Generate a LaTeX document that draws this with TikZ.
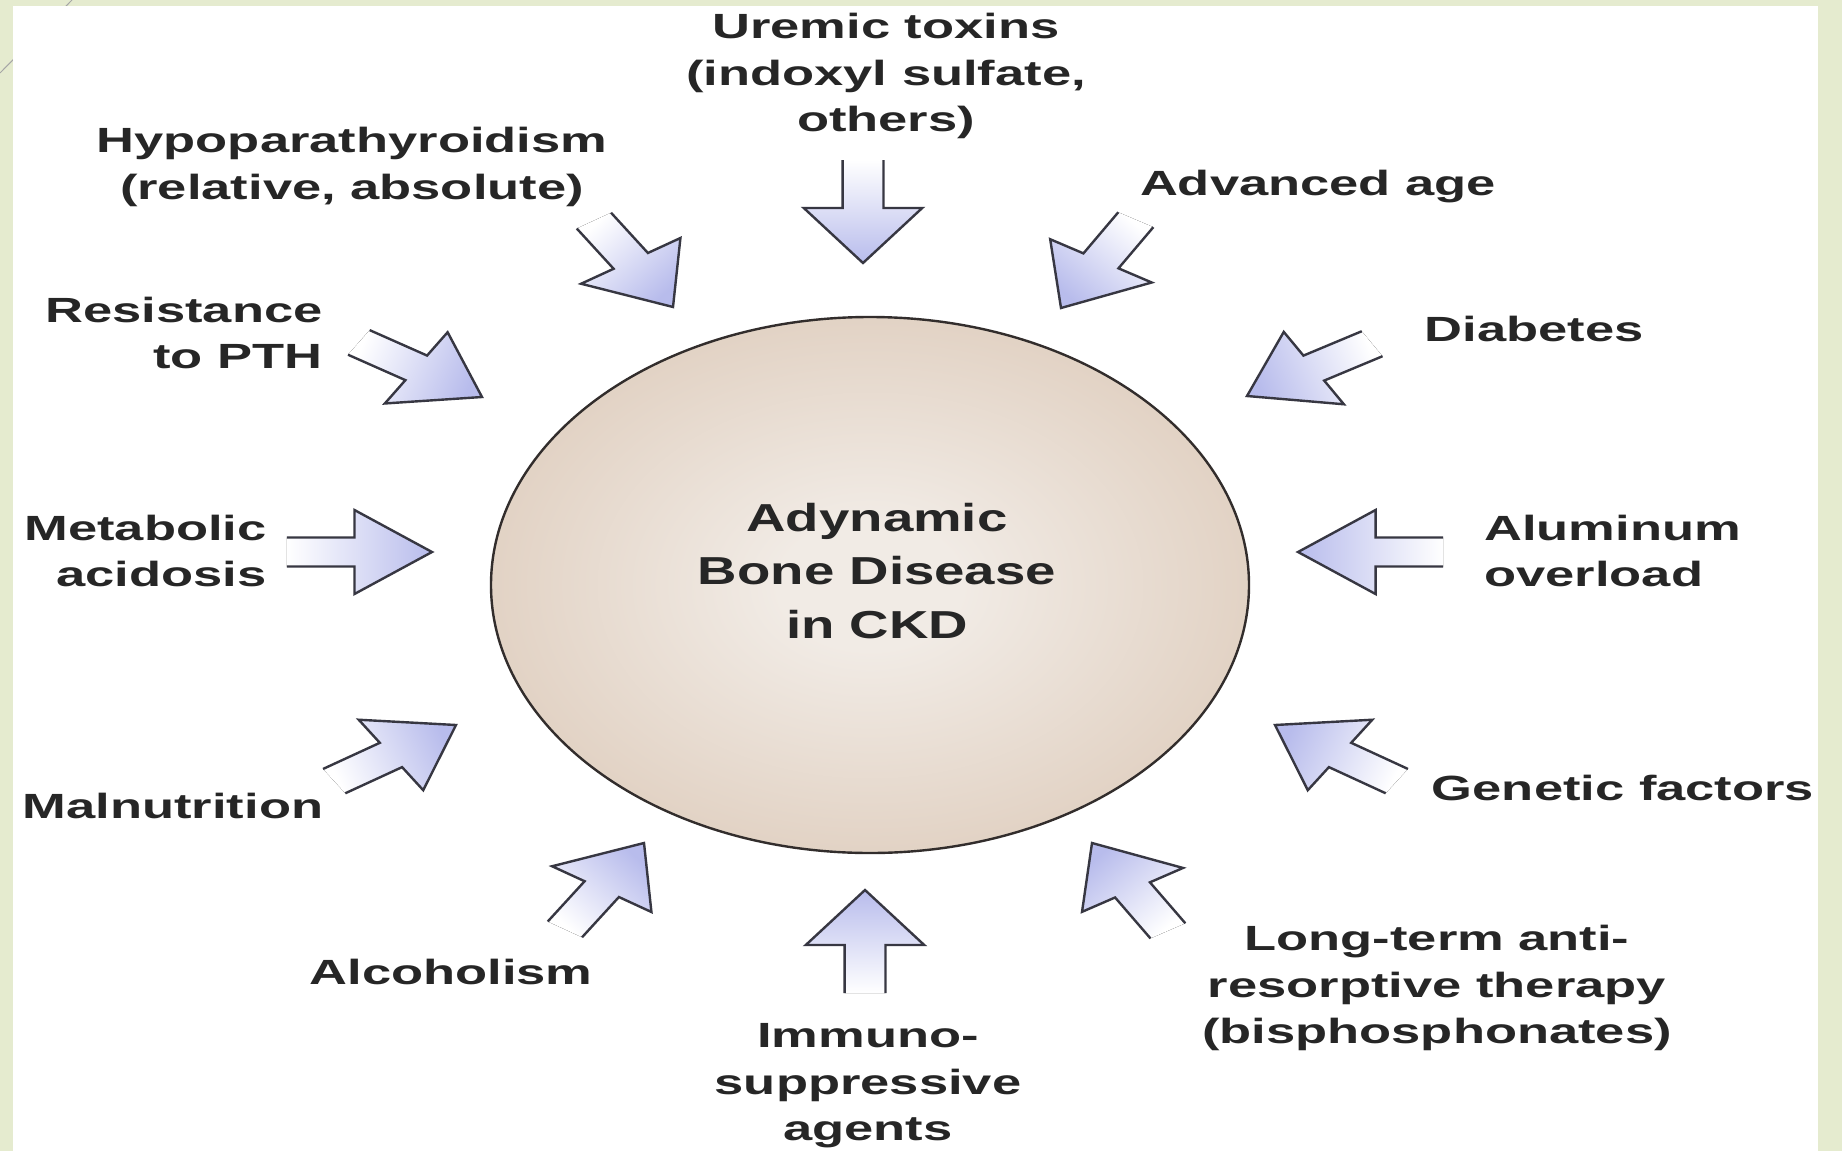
\documentclass[tikz,border=0pt]{standalone}
\usepackage{fontspec}
\newfontfamily\labfont{Liberation Sans}[FakeStretch=1.5]
\newfontfamily\ctrfont{Liberation Sans}[FakeStretch=1.4]
\definecolor{bgreen}{RGB}{229,235,207}
\definecolor{lav}{RGB}{184,188,236}
\definecolor{aline}{RGB}{55,55,66}
\definecolor{txt}{RGB}{38,38,38}
\definecolor{ballin}{RGB}{241,235,229}
\definecolor{ballmid}{RGB}{222,204,188}
\definecolor{ballout}{RGB}{180,140,112}
\definecolor{ballrim}{RGB}{50,45,44}
\pgfdeclareradialshading{ballshade}{\pgfpoint{0bp}{0bp}}{color(0bp)=(ballin); color(6bp)=(ballin); color(30bp)=(ballmid); color(50bp)=(ballout)}
\tikzset{
  lab/.style={font=\labfont\bfseries\fontsize{17.5}{23.3}\selectfont, text=txt, inner sep=0pt, align=center},
  ctr/.style={font=\ctrfont\bfseries\fontsize{19.5}{26.7}\selectfont, text=txt, inner sep=0pt, align=center},
  arrowline/.style={draw=aline, line width=1.2pt, line join=miter},
}
\begin{document}
\begin{tikzpicture}[x=0.5pt, y=-0.5pt]
\useasboundingbox (0,0) rectangle (1842,1151);
% slide background
\fill[bgreen] (0,0) rectangle (1842,1151);
\draw[gray!70, line width=0.5pt] (0,73) -- (72,0);
\fill[white] (13,6) rectangle (1818,1151);

% central ball
\path[shading=ballshade, draw=ballrim, line width=1.2pt] (870,585) ellipse [x radius=379, y radius=268];
\node[ctr] (centre) at (877,571) {Adynamic\\Bone Disease\\in CKD};

% block arrows
\foreach \n/\x/\y/\a in {uremic/863/263/-90, hypo/673/307/-57, adv/1061/308/-121,
  resist/482/397/-32, diab/1247/396/-149.5, metab/432/552/0, alum/1298/552/180,
  maln/456/725/33, genet/1275/725/147, alcoh/644/843/57, longt/1092/843/121.5,
  immuno/865/890/90}{
  \coordinate (t-\n) at (\x,\y);
  \pgfmathsetmacro\sa{atan2(sin(\a),1.41*cos(\a))-90}
  \begin{scope}[shift={(t-\n)}, xscale=1.41, rotate=\a]
    \fill[top color=lav, bottom color=white, shading angle=\sa] (-103,14.5) -- (-55,14.5) -- (-55,42) -- (0,0) -- (-55,-42) -- (-55,-14.5) -- (-103,-14.5) -- cycle;
    \draw[arrowline] (-103,14.5) -- (-55,14.5) -- (-55,42) -- (0,0) -- (-55,-42) -- (-55,-14.5) -- (-103,-14.5);
  \end{scope}
}

% labels
\node[lab] (uremic) at (886,76) {Uremic toxins\\(indoxyl sulfate,\\others)};
\node[lab] (hypo) at (352,167) {Hypoparathyroidism\\(relative, absolute)};
\node[lab] (adv) at (1318,187) {Advanced age};
\node[lab, align=right, anchor=east] (resist) at (323,333) {Resistance\\to PTH};
\node[lab] (diab) at (1534,329) {Diabetes};
\node[lab, align=right, anchor=east] (metab) at (267,551) {Metabolic\\acidosis};
\node[lab, align=left, anchor=west] (alum) at (1484,551) {Aluminum\\overload};
\node[lab] (maln) at (173,806) {Malnutrition};
\node[lab] (genet) at (1623,788) {Genetic factors};
\node[lab] (alcoh) at (451,972) {Alcoholism};
\node[lab] (longt) at (1437,988) {Long-term anti-\\resorptive therapy\\(bisphosphonates)};
\node[lab] (immuno) at (868,1086) {Immuno-\\suppressive\\agents};
\end{tikzpicture}
\end{document}
